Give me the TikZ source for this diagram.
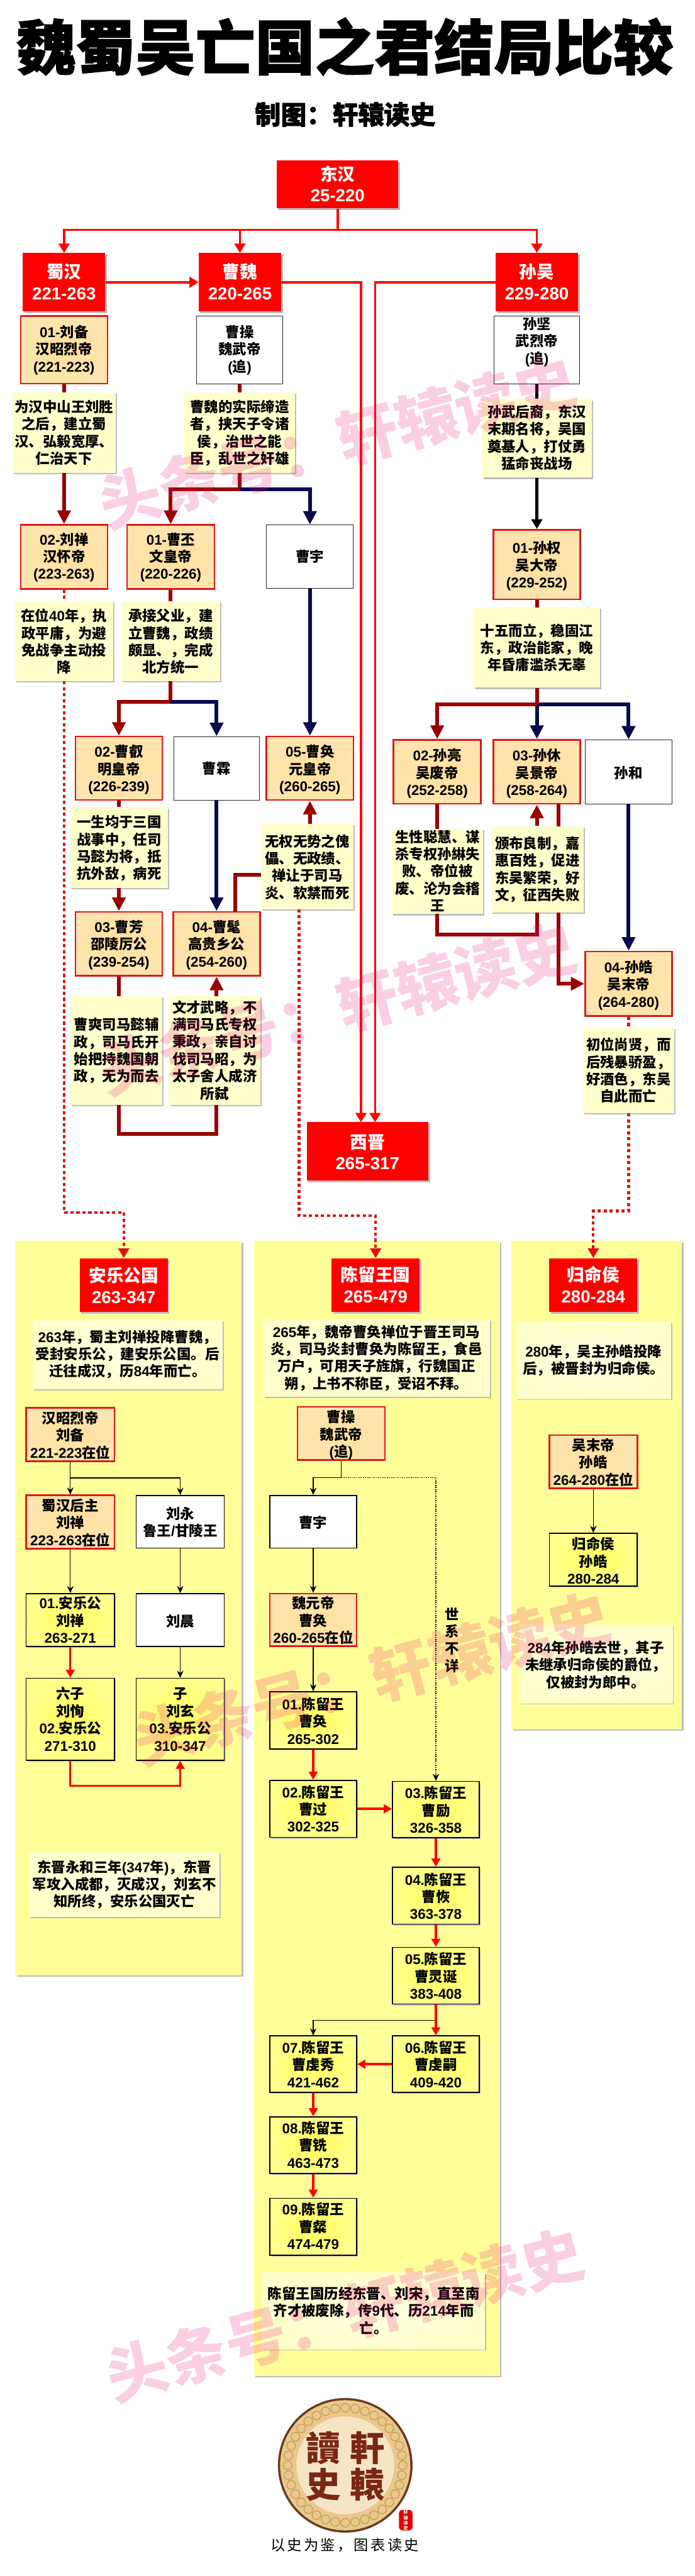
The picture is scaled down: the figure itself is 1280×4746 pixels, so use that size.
\documentclass[tikz,border=0pt]{standalone}
\usepackage{fontspec}
\usetikzlibrary{arrows.meta,shadows,calc}
\setmainfont{Liberation Sans}
\newfontfamily\latfam{Liberation Sans}
\newfontfamily\cjkfam{Noto Sans CJK SC}
\newfontfamily\titlef{Noto Sans CJK SC}[BoldFeatures={FakeBold=1.6}]
\newfontfamily\tagf{Noto Sans CJK SC}[LetterSpace=14]
% Latin text in Liberation Sans, Chinese text in Noto Sans CJK SC
\chardef\cjkcls=200
\count255="3000 \loop\ifnum\count255<"3040 \XeTeXcharclass\count255=\cjkcls \advance\count255 by 1 \repeat
\count255="FF00 \loop\ifnum\count255<"FFF0 \XeTeXcharclass\count255=\cjkcls \advance\count255 by 1 \repeat
\count255="4E00 \loop\ifnum\count255<"A000 \XeTeXcharclass\count255=\cjkcls \advance\count255 by 1 \repeat
\XeTeXinterchartoks 0 \cjkcls={\cjkfam}
\XeTeXinterchartoks \cjkcls 0={\latfam}
\XeTeXinterchartoks 4095 \cjkcls={\cjkfam}
\XeTeXinterchartoks 4095 0={\latfam}
\XeTeXinterchartokenstate=1
\definecolor{pure}{HTML}{FF0000}
\definecolor{emp}{HTML}{FFE09C}
\definecolor{empo}{HTML}{FEE4AE}
\definecolor{empline}{HTML}{E01818}
\definecolor{notef}{HTML}{FFFFCC}
\definecolor{notei}{HTML}{FFFFE2}
\definecolor{panelf}{HTML}{FFFF99}
\definecolor{yel}{HTML}{FFFF5C}
\definecolor{yelo}{HTML}{FFFF8C}
\definecolor{shade}{HTML}{BDBDBD}
\definecolor{dk}{HTML}{990000}
\definecolor{navy}{HTML}{0A0A50}
\definecolor{dotr}{HTML}{DD1414}
\definecolor{wm}{RGB}{230,15,115}
\definecolor{ringd}{HTML}{6B3A1E}
\definecolor{ringm}{HTML}{E9C88C}
\definecolor{ringl}{HTML}{F5E5C5}
\definecolor{ringp}{HTML}{C99A55}
\definecolor{logot}{HTML}{7A2814}
\tikzset{
  shad/.style={drop shadow={shadow xshift=#1,shadow yshift=-#1,opacity=1,fill=shade}},
  redbox/.style={fill=pure,text=white,shad=3pt},
  empbox/.style={inner color=emp,outer color=empo,draw=empline,line width=3pt},
  wbox/.style={fill=white,draw=black!85,line width=1pt},
  wboxb/.style={fill=white,draw=black,line width=2pt},
  ybox/.style={inner color=yel,outer color=yelo,draw=black,line width=2pt,shad=2.5pt},
  notebox/.style={fill=notef,shad=2.5pt},
  pnotebox/.style={inner color=notei,outer color=notef,shad=2.5pt},
  panelbox/.style={fill=panelf,shad=3pt},
  plainbox/.style={},
  seal/.style={fill=red!90!black,rounded corners=6pt,text=white},
  wmark/.style={text=wm,text opacity=.2,rotate=15,inner sep=0pt},
  bigred/.style={draw=pure,line width=4pt},
  bigredtip/.style={bigred,-{Triangle[width=20pt,length=17pt]}},
  dkline/.style={draw=dk,line width=7pt},
  dktip/.style={dkline,-{Triangle[width=24pt,length=25pt]}},
  navline/.style={draw=navy,line width=7pt},
  navtip/.style={navline,-{Triangle[width=24pt,length=25pt]}},
  blkline/.style={draw=black,line width=5pt},
  blktip/.style={blkline,-{Triangle[width=20pt,length=18pt]}},
  dotline/.style={draw=dotr,line width=5pt,dash pattern=on 6pt off 5pt},
  dottip/.style={dotline,-{Triangle[width=20pt,length=18pt]}},
  thinline/.style={draw=black,line width=1.5pt},
  thintip/.style={thinline,-{Stealth[width=12pt,length=13pt]}},
  thindot/.style={draw=black,line width=1.5pt,dash pattern=on 2pt off 2pt,-{Stealth[width=12pt,length=13pt]}},
  redtip/.style={draw=pure,line width=4pt,-{Triangle[width=16pt,length=15pt]}},
}
% [size]{name}{style}{x1}{y1}{x2}{y2}{centre y of first line}{lines}
\newcommand\bx[9][26]{%
  \pgfmathsetmacro\cxv{(#4+#6)/2}\pgfmathsetmacro\cyv{(#5+#7)/2}%
  \pgfmathsetmacro\wv{#6-#4}\pgfmathsetmacro\hv{#7-#5}%
  \pgfmathsetmacro\offv{#8-#5+0.37*#1}\pgfmathsetmacro\lv{1.22*#1}%
  \node[#3,minimum width=\wv pt,minimum height=\hv pt,inner sep=0pt] (#2) at (\cxv,\cyv) {%
    \parbox[c][\hv pt][t]{\wv pt}{\centering\leftskip=-40pt plus 1fil \rightskip=-40pt plus 1fil \parfillskip=0pt
      \fontsize{#1}{\lv}\selectfont\bfseries\lineskiplimit=-\maxdimen
      \rule{0pt}{\offv pt}#9}};%
}
\begin{document}
\begin{tikzpicture}[x=1pt,y=-1pt]
\useasboundingbox (0,0) rectangle (1280,4746);
\fill[white] (0,0) rectangle (1280,4746);
% panels
\bx{p1}{panelbox}{28}{2286}{445}{3639}{2300}{}
\bx{p2}{panelbox}{468}{2286}{921}{4377}{2300}{}
\bx{p3}{panelbox}{942}{2286}{1256}{3186}{2300}{}
% title
\node[inner sep=0pt] (title) at (635,86) {\XeTeXinterchartokenstate=0 \fontsize{110}{120}\titlef\bfseries 魏蜀吴亡国之君结局比较};
\node[inner sep=0pt] (sub) at (636,211) {\XeTeXinterchartokenstate=0 \fontsize{47.5}{52}\titlef\bfseries 制图：轩辕读史};
% states
\bx[32]{han}{redbox}{510}{296}{734}{384}{321}{东汉\\25-220}
\bx[32]{shu}{redbox}{42}{466}{194}{574}{501}{蜀汉\\221-263}
\bx[32]{wei}{redbox}{366}{466}{518}{574}{501}{曹魏\\220-265}
\bx[32]{wu}{redbox}{913}{466}{1065}{574}{501}{孙吴\\229-280}
\bx[32]{xijin}{redbox}{565}{2067.5}{789}{2175}{2104}{西晋\\265-317}
% Shu
\bx{liubei}{empbox}{38}{582}{198}{707}{612}{01-刘备\\汉昭烈帝\\(221-223)}
\bx{nliubei}{notebox}{23}{723}{213}{871}{750}{为汉中山王刘胜\\之后，建立蜀\\汉、弘毅宽厚、\\仁治天下}
\bx{liushan}{empbox}{38}{967}{198}{1085}{994}{02-刘禅\\汉怀帝\\(223-263)}
\bx{nliushan}{notebox}{28}{1108}{208}{1255}{1135}{在位40年，执\\政平庸，为避\\免战争主动投\\降}
% Wei
\bx{caocao}{wbox}{362}{582}{521}{707}{612}{曹操\\魏武帝\\(追)}
\bx{ncaocao}{notebox}{340}{723}{543}{871}{750}{曹魏的实际缔造\\者，挟天子令诸\\侯，治世之能\\臣，乱世之奸雄}
\bx{caopi}{empbox}{234}{967}{395}{1085}{994}{01-曹丕\\文皇帝\\(220-226)}
\bx{caoyu}{wbox}{491}{967}{651}{1084}{1026}{曹宇}
\bx{npi}{notebox}{224}{1108}{405}{1255}{1135}{承接父业，建\\立曹魏，政绩\\颇显、，完成\\北方统一}
\bx{caorui}{empbox}{139}{1357}{299}{1474}{1385}{02-曹叡\\明皇帝\\(226-239)}
\bx{caolin}{wbox}{320}{1357}{478}{1474}{1416}{曹霖}
\bx{caohuan}{empbox}{491}{1357}{651}{1474}{1385}{05-曹奂\\元皇帝\\(260-265)}
\bx{nrui}{notebox}{130}{1487}{309}{1636}{1515}{一生均于三国\\战事中，任司\\马懿为将，抵\\抗外敌，病死}
\bx{nhuan}{notebox}{481}{1518}{651}{1675}{1550}{无权无势之傀\\儡、无政绩、\\禅让于司马\\炎、软禁而死}
\bx{fang}{empbox}{139}{1680}{299}{1798}{1708}{03-曹芳\\邵陵厉公\\(239-254)}
\bx{mao}{empbox}{319}{1680}{479}{1798}{1708}{04-曹髦\\高贵乡公\\(254-260)}
\bx{nfang}{notebox}{130}{1835}{299}{2036}{1888}{曹爽司马懿辅\\政，司马氏开\\始把持魏国朝\\政，无为而去}
\bx{nmao}{notebox}{311}{1835}{480}{2036}{1856}{文才武略，不\\满司马氏专权\\秉政，亲自讨\\伐司马昭，为\\太子舍人成济\\所弑}
% Wu
\bx{sunjian}{wbox}{910}{582}{1068}{707}{597}{孙坚\\武烈帝\\(追)}
\bx{njian}{notebox}{888}{735}{1090}{880}{759}{孙武后裔，东汉\\末期名将，吴国\\奠基人，打仗勇\\猛命丧战场}
\bx{quan}{empbox}{909}{976}{1069}{1104}{1010}{01-孙权\\吴大帝\\(229-252)}
\bx{nquan}{notebox}{873}{1119}{1105}{1267}{1162}{十五而立，稳固江\\东，政治能家，晚\\年昏庸滥杀无辜}
\bx{liang}{empbox}{725}{1363}{886}{1481}{1392}{02-孙亮\\吴废帝\\(252-258)}
\bx{xiu}{empbox}{909}{1363}{1069}{1481}{1392}{03-孙休\\吴景帝\\(258-264)}
\bx{suhe}{wbox}{1078}{1363}{1238}{1481}{1424}{孙和}
\bx{nliang}{notebox}{722}{1527}{890}{1684}{1542}{生性聪慧、谋\\杀专权孙綝失\\败、帝位被\\废、沦为会稽\\王}
\bx{nxiu}{notebox}{905}{1522}{1075}{1681}{1554}{颁布良制，嘉\\惠百姓，促进\\东吴繁荣，好\\文，征西失败}
\bx{hao}{empbox}{1078}{1753}{1238}{1872}{1782}{04-孙皓\\吴末帝\\(264-280)}
\bx{nhao}{notebox}{1074}{1893}{1242}{2051}{1925}{初位尚贤，而\\后残暴骄盈，\\好酒色，东吴\\自此而亡}
% Anle
\bx[32]{anle}{redbox}{147}{2318}{309}{2417}{2350}{安乐公国\\263-347}
\bx{nanle}{pnotebox}{60}{2432}{410}{2559}{2463}{263年，蜀主刘禅投降曹魏，\\受封安乐公，建安乐公国。后\\迁往成汉，历84年而亡。}
\bx{zhaolie}{empbox}{48}{2594}{211}{2692}{2613}{汉昭烈帝\\刘备\\221-223在位}
\bx{houzhu}{empbox}{48}{2755}{211}{2853}{2774}{蜀汉后主\\刘禅\\223-263在位}
\bx{liuyong}{wboxb}{251}{2755}{413}{2852}{2789}{刘永\\鲁王/甘陵王}
\bx{anone}{ybox}{48}{2936}{211}{3033}{2954}{01.安乐公\\刘禅\\263-271}
\bx{liuchen}{wboxb}{251}{2936}{413}{3033}{2987}{刘晨}
\bx{liuxun}{ybox}{48}{3092}{211}{3243}{3121}{六子\\刘恂\\02.安乐公\\271-310}
\bx{liuxuan}{ybox}{251}{3092}{413}{3243}{3121}{子\\刘玄\\03.安乐公\\310-347}
\bx{nanle2}{pnotebox}{54}{3412}{404}{3531}{3440}{东晋永和三年(347年)，东晋\\军攻入成都，灭成汉，刘玄不\\知所终，安乐公国灭亡}
% Chenliu
\bx[32]{chenliu}{redbox}{611}{2318}{773}{2417}{2349}{陈留王国\\265-479}
\bx{nchen}{pnotebox}{485}{2431}{902}{2573}{2454}{265年，魏帝曹奂禅位于晋王司马\\炎，司马炎封曹奂为陈留王，食邑\\万户，可用天子旌旗，行魏国正\\朔，上书不称臣，受诏不拜。}
\bx{wudi}{empbox}{548}{2592}{709}{2690}{2611}{曹操\\魏武帝\\(追)}
\bx{yu2}{wboxb}{497}{2755}{657}{2852}{2805}{曹宇}
\bx{yuandi}{empbox}{497}{2936}{657}{3033}{2954}{魏元帝\\曹奂\\260-265在位}
\bx{shixi}{plainbox}{818}{2955}{848}{3090}{2974}{世\\系\\不\\详}
\bx{cone}{ybox}{497}{3117}{657}{3222}{3140}{01.陈留王\\曹奂\\265-302}
\bx{ctwo}{ybox}{497}{3280}{657}{3385}{3302}{02.陈留王\\曹过\\302-325}
\bx{cthree}{ybox}{723}{3282}{883}{3386}{3304}{03.陈留王\\曹励\\326-358}
\bx{cfour}{ybox}{723}{3440}{883}{3545}{3463}{04.陈留王\\曹恢\\363-378}
\bx{cfive}{ybox}{723}{3588}{883}{3692}{3610}{05.陈留王\\曹灵诞\\383-408}
\bx{csix}{ybox}{723}{3751}{883}{3855}{3773}{06.陈留王\\曹虔嗣\\409-420}
\bx{cseven}{ybox}{497}{3751}{657}{3855}{3773}{07.陈留王\\曹虔秀\\421-462}
\bx{ceight}{ybox}{497}{3900}{657}{4004}{3921}{08.陈留王\\曹铣\\463-473}
\bx{cnine}{ybox}{497}{4050}{657}{4155}{4071}{09.陈留王\\曹粲\\474-479}
\bx{nchen2}{pnotebox}{484}{4187}{893}{4328}{4226}{陈留王国历经东晋、刘宋，直至南\\齐才被废除，传9代、历214年而\\亡。}
% Guiming
\bx[32]{guiming}{redbox}{1012}{2318}{1174}{2417}{2349}{归命侯\\280-284}
\bx{ngui}{pnotebox}{951}{2435}{1236}{2577}{2490}{280年，吴主孙皓投降\\后，被晋封为归命侯。}
\bx{mo}{empbox}{1012}{2644}{1174}{2742}{2663}{吴末帝\\孙皓\\264-280在位}
\bx{gui}{ybox}{1012}{2825}{1174}{2922}{2845}{归命侯\\孙皓\\280-284}
\bx{ngui2}{pnotebox}{956}{2993}{1239}{3138}{3036}{284年孙皓去世，其子\\未继承归命侯的爵位，\\仅被封为郎中。}
% named free ends
\coordinate (jh) at (622,423.5);
\coordinate (xa) at (665,2067.5);
\coordinate (xb) at (691,2067.5);
\coordinate (jw) at (441.5,901);
\coordinate (jp) at (314.5,1293);
\coordinate (hn) at (481,1612);
\coordinate (hm) at (433,1680);
\coordinate (fs) at (219,2036);
\coordinate (fj) at (219,2089);
\coordinate (ms) at (399,2036);
\coordinate (jq) at (989,1298);
\coordinate (xtop) at (1029,1522);
\coordinate (xbot) at (1029,1481);
\coordinate (xn) at (1029,1681);
\coordinate (ls) at (805.5,1684);
\coordinate (lj) at (989,1722);
\coordinate (d1) at (228,2233.6);
\coordinate (d2s) at (551,1675);
\coordinate (d2) at (692,2240);
\coordinate (d3) at (1093,2231);
\coordinate (hj1) at (129.5,2723);
\coordinate (xj) at (332,3290);
\coordinate (cj) at (628.5,2722);
\coordinate (j56) at (803,3722);
% connectors: top level
\draw[bigred] (han.south) -- (jh);
\draw[bigredtip] (jh) -| (shu.north);
\draw[bigredtip] (jh) -| (wei.north);
\draw[bigredtip] (jh) -| (wu.north);
\draw[bigredtip] (shu.east) -- (wei.west);
\draw[bigredtip] (wei.east) -| (xa);
\draw[bigredtip] (wu.west) -| (xb);
% Shu
\draw[dkline] (liubei.south) -- (liubei.south |- nliubei.north);
\draw[dktip] (liubei.south |- nliubei.south) -- (liushan.north);
\draw[dotline] (liushan.south) -- (liushan.south |- nliushan.north);
\draw[dottip] (liushan.south |- nliushan.south) |- (d1) -- (anle.north);
% Wei
\draw[dkline] (caocao.south) -- (caocao.south |- ncaocao.north);
\draw[dkline] (ncaocao.south) -- (jw);
\draw[navtip] (jw) -| (caoyu.north);
\draw[dktip] (jw) -| (caopi.north);
\draw[dkline] (caopi.south) -- (npi.north);
\draw[dkline] (npi.south) -- (jp);
\draw[navtip] (jp) -| (caolin.north);
\draw[dktip] (jp) -| (caorui.north);
\draw[navtip] (caoyu.south) -- (caohuan.north);
\draw[dkline] (caorui.south) -- (caorui.south |- nrui.north);
\draw[dktip] (caorui.south |- nrui.south) -- (fang.north);
\draw[navtip] (caolin.south) -- (mao.north);
\draw[dktip] (caohuan.south |- nhuan.north) -- (caohuan.south);
\draw[dkline] (hn) -| (hm);
\draw[dkline] (fang.south) -- (fang.south |- nfang.north);
\draw[dkline] (fs) -- (fj) -| (ms);
\draw[dktip] (mao.south |- nmao.north) -- (mao.south);
\draw[dottip] (d2s) |- (d2) -- (chenliu.north);
% Wu
\draw[blkline] (sunjian.south) -- (sunjian.south |- njian.north);
\draw[blktip] (quan.north |- njian.south) -- (quan.north);
\draw[dkline] (quan.south) -- (quan.south |- nquan.north);
\draw[navtip] (jq) -| (suhe.north);
\draw[navtip] (jq) -- (jq |- xiu.north);
\draw[dkline] (quan.south |- nquan.south) -- (jq);
\draw[dktip] (jq) -| (liang.north);
\draw[dkline] (liang.south) -- (liang.south |- nliang.north);
\draw[dktip] (xiu.south |- nxiu.north) -- (xiu.south);
\draw[dkline] (xbot) -- (xtop);
\draw[dkline] (ls) |- (lj) -- (lj |- nxiu.south);
\draw[navtip] (suhe.south) -- (hao.north);
\draw[dktip] (xn) |- (hao.west);
\draw[dotline] (hao.south) -- (nhao.north);
\draw[dottip] (nhao.south) |- (d3) -- (guiming.north);
% Anle
\draw[thinline] (zhaolie.south) -- (hj1);
\draw[thintip] (hj1) -- (houzhu.north);
\draw[thintip] (hj1) -| (liuyong.north);
\draw[thintip] (houzhu.south) -- (anone.north);
\draw[thintip] (liuyong.south) -- (liuchen.north);
\draw[redtip] (anone.south) -- (liuxun.north);
\draw[thintip] (liuchen.south) -- (liuxuan.north);
\draw[redtip] (liuxun.south) |- (xj) -- (liuxuan.south);
% Chenliu
\draw[thinline] (wudi.south) -- (cj);
\draw[thintip] (cj) -| (yu2.north);
\draw[thindot] (cj) -| (cthree.north);
\draw[thintip] (yu2.south) -- (yuandi.north);
\draw[thintip] (yuandi.south) -- (cone.north);
\draw[redtip] (cone.south) -- (ctwo.north);
\draw[redtip] (ctwo.east) -- (ctwo.east -| cthree.west);
\draw[redtip] (cthree.south) -- (cfour.north);
\draw[redtip] (cfour.south) -- (cfive.north);
\draw[thintip] (j56) -| (cseven.north);
\draw[redtip] (cfive.south) -- (csix.north);
\draw[redtip] (csix.west) -- (cseven.east);
\draw[redtip] (cseven.south) -- (ceight.north);
\draw[redtip] (ceight.south) -- (cnine.north);
% Guiming
\draw[thintip] (mo.south) -- (gui.north);
% logo
\filldraw[fill=ringm,draw=ringd,line width=4pt] (636,4542) circle (122);
\foreach \a in {0,10,...,350}{
  \draw[ringp,line width=1.5pt] (636,4542) ++(\a:106) circle (8);
}
\fill[ringl] (636,4542) circle (90);
\node[text=logot,inner sep=0pt] (lg1) at (677,4510) {\XeTeXinterchartokenstate=0 \fontsize{64}{70}\cjkfam\bfseries 軒};
\node[text=logot,inner sep=0pt] (lg2) at (677,4578) {\XeTeXinterchartokenstate=0 \fontsize{64}{70}\cjkfam\bfseries 轅};
\node[text=logot,inner sep=0pt] (lg3) at (596,4510) {\XeTeXinterchartokenstate=0 \fontsize{64}{70}\cjkfam\bfseries 讀};
\node[text=logot,inner sep=0pt] (lg4) at (596,4578) {\XeTeXinterchartokenstate=0 \fontsize{64}{70}\cjkfam\bfseries 史};
\bx[8]{sealbox}{seal}{735}{4624}{760}{4662}{4629}{轩\\辕\\读\\史}
\node[inner sep=0pt] (tagline) at (635,4689) {\XeTeXinterchartokenstate=0 \fontsize{27}{30}\tagf 以史为鉴，图表读史};
% watermarks
\node[wmark] (wm1) at (622,815) {\XeTeXinterchartokenstate=0 \fontsize{113}{120}\cjkfam\bfseries 头条号：轩辕读史};
\node[wmark] (wm2) at (622,1858) {\XeTeXinterchartokenstate=0 \fontsize{113}{120}\cjkfam\bfseries 头条号：轩辕读史};
\node[wmark] (wm3) at (684,3092) {\XeTeXinterchartokenstate=0 \fontsize{113}{120}\cjkfam\bfseries 头条号：轩辕读史};
\node[wmark] (wm4) at (635,4265) {\XeTeXinterchartokenstate=0 \fontsize{113}{120}\cjkfam\bfseries 头条号：轩辕读史};
\end{tikzpicture}
\end{document}
